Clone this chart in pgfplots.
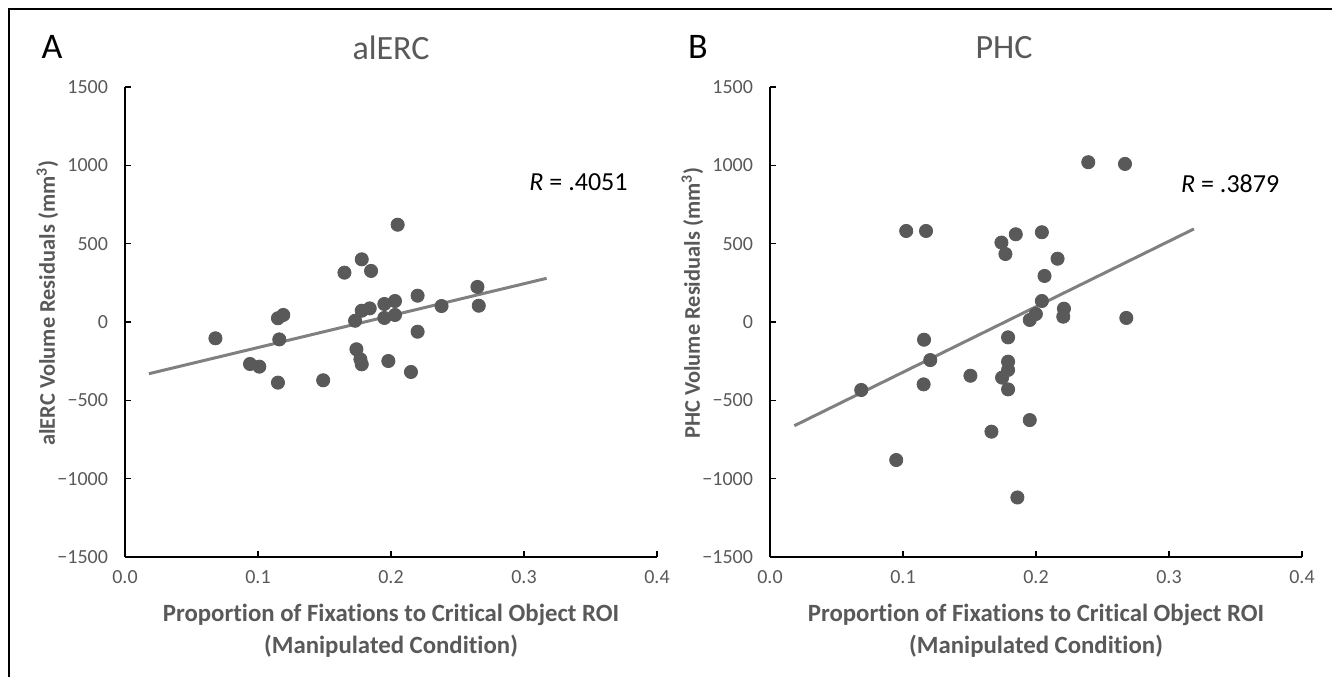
\documentclass[border=0pt]{standalone}
\usepackage{fontspec}
\setmainfont{Carlito}[Ligatures=NoCommon]
\usepackage{pgfplots}
\pgfplotsset{compat=1.18}
\definecolor{ptgray}{HTML}{595959}
\definecolor{lngray}{HTML}{808080}

% one panel: plot area 266pt x 235pt, only left and bottom axis lines
\pgfplotsset{panel/.style={
  scale only axis, width=266pt, height=235pt,
  xmin=0, xmax=0.4, ymin=-1500, ymax=1500,
  axis x line=bottom, axis y line=left,
  axis line style={-, line width=1pt, black},
  tick align=inside, major tick length=3pt,
  every tick/.style={black, line width=0.8pt},
  xtick={0,0.1,0.2,0.3,0.4}, xticklabels={0.0,0.1,0.2,0.3,0.4},
  ytick={-1500,-1000,-500,0,500,1000,1500},
  yticklabels={−1500,−1000,−500,0,500,1000,1500},
  tick label style={font=\fontsize{10}{11}\selectfont, text=ptgray},
  yticklabel style={xshift=-5pt},
  xticklabel style={yshift=-3pt},
  xlabel style={font=\fontsize{12.4}{16}\selectfont\bfseries, text=ptgray,
    at={(axis description cs:0.5,0)}, anchor=north, yshift=-20pt, align=center},
  ylabel style={font=\fontsize{11.2}{13}\selectfont\bfseries, text=ptgray,
    at={(axis description cs:-0.146,0.54)}, anchor=center},
  title style={font=\fontsize{17}{20}\selectfont, text=ptgray,
    at={(axis description cs:0.5,1)}, anchor=center, yshift=13.5pt},
  clip=false,
}}

\begin{document}
\begin{tikzpicture}
\useasboundingbox (0,0) rectangle (666pt,338.5pt);
\draw[line width=1pt] (4.5pt,0) -- (4.5pt,334pt) -- (666pt,334pt);
\node[font=\fontsize{18}{20}\selectfont] at (26pt,315pt) {A};
\node[font=\fontsize{18}{20}\selectfont] at (349pt,315pt) {B};

\begin{axis}[panel, at={(62.5pt,60pt)}, anchor=south west,
  title={alERC},
  xlabel={Proportion of Fixations to Critical Object ROI\\(Manipulated Condition)},
  ylabel={alERC Volume Residuals (mm\textsuperscript{3})}]
  \addplot[only marks, mark=*, mark size=3.3pt, color=ptgray] table {
x y
0.068 -104
0.094 -268
0.101 -285
0.115 -387
0.115 24
0.119 45
0.116 -111
0.149 -372
0.165 315
0.178 400
0.185 326
0.205 621
0.173 8
0.178 72
0.184 87
0.195 115
0.203 134
0.195 26
0.203 45
0.220 168
0.220 -62
0.215 -319
0.198 -249
0.174 -174
0.177 -238
0.178 -270
0.238 102
0.265 224
0.266 104
};
  \addplot[color=lngray, line width=1.5pt] coordinates {(0.018,-330) (0.317,279)};
  \node[font=\fontsize{13}{15}\selectfont] at (axis cs:0.341,892) {\textit{R} = .4051};
\end{axis}

\begin{axis}[panel, at={(385pt,60pt)}, anchor=south west,
  title={PHC}, title style={xshift=-16pt},
  xlabel={Proportion of Fixations to Critical Object ROI\\(Manipulated Condition)},
  ylabel={PHC Volume Residuals (mm\textsuperscript{3})}]
  \addplot[only marks, mark=*, mark size=3.3pt, color=ptgray] table {
x y
0.0686 -434
0.0949 -881
0.1024 581
0.1173 581
0.1158 -113
0.1205 -243
0.1155 -398
0.1507 -343
0.1665 -700
0.174 507
0.177 434
0.1848 560
0.179 -98
0.179 -253
0.179 -306
0.1745 -355
0.179 -430
0.186 -1120
0.1953 -626
0.1953 13
0.1999 51
0.2044 573
0.2044 134
0.2064 294
0.2162 404
0.221 85
0.2205 34
0.2393 1020
0.2669 1009
0.2679 26
};
  \addplot[color=lngray, line width=1.5pt] coordinates {(0.0183,-662) (0.3187,594)};
  \node[font=\fontsize{13}{15}\selectfont] at (axis cs:0.346,885) {\textit{R} = .3879};
\end{axis}
\end{tikzpicture}
\end{document}
